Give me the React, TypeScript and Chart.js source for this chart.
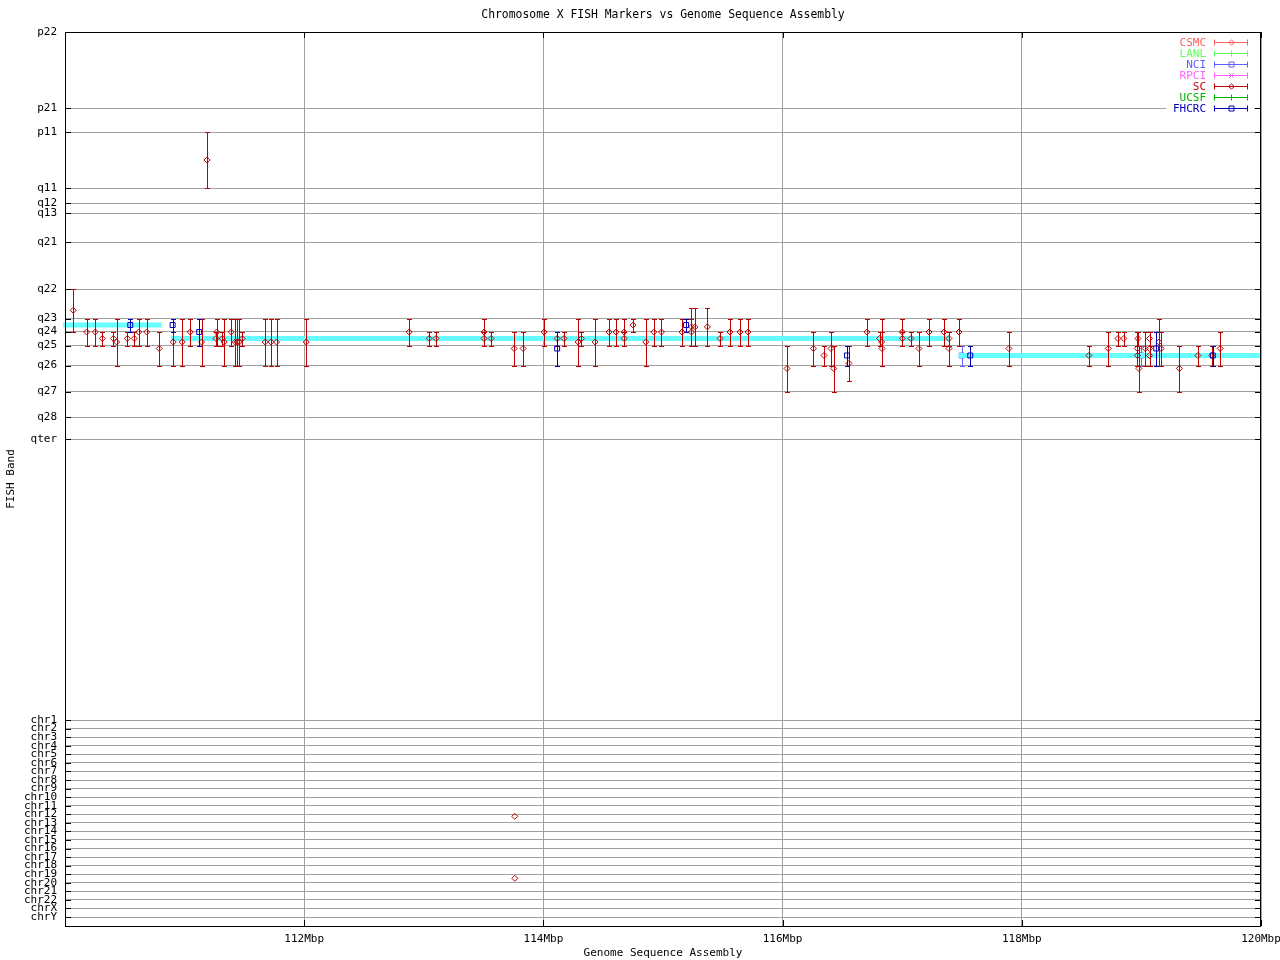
import React, { useEffect, useRef } from "react";
import { Chart, registerables } from "chart.js";

Chart.register(...registerables);

// ---------- axis tick data ----------
const bandLabels = ["p22", "p21", "p11", "q11", "q12", "q13", "q21", "q22", "q23", "q24", "q25", "q26", "q27", "q28", "qter"];
const bandValues = [0, 76, 100, 156, 171, 181, 210, 257, 286.5, 299.5, 313.5, 333.5, 359.5, 385, 407];
const chrLabels = ["chr1", "chr2", "chr3", "chr4", "chr5", "chr6", "chr7", "chr8", "chr9", "chr10", "chr11", "chr12", "chr13", "chr14", "chr15", "chr16", "chr17", "chr18", "chr19", "chr20", "chr21", "chr22", "chrX", "chrY"];
const chrValues = [688, 696.6, 705.1, 713.7, 722.3, 730.8, 739.4, 748, 756.5, 765.1, 773.7, 782.2, 790.8, 799.3, 807.9, 816.5, 825, 833.6, 842.2, 850.7, 859.3, 867.9, 876.4, 885];
const xTickValues = [112, 114, 116, 118, 120];

// ---------- SC markers (Mbp, band position, band range) ----------
const scX = [110.069, 110.181, 110.253, 110.312, 110.404, 110.432, 110.521, 110.579, 110.616, 110.683, 110.788, 110.905, 110.98, 111.047, 111.142, 111.187, 111.262, 111.268, 111.315, 111.331, 111.39, 111.423, 111.44, 111.457, 111.482, 111.674, 111.722, 111.769, 112.017, 112.878, 113.045, 113.103, 113.504, 113.504, 113.563, 113.755, 113.83, 114.006, 114.115, 114.173, 114.29, 114.318, 114.432, 114.549, 114.608, 114.675, 114.675, 114.75, 114.856, 114.923, 114.987, 115.159, 115.238, 115.238, 115.268, 115.371, 115.477, 115.56, 115.644, 115.711, 116.037, 116.257, 116.346, 116.404, 116.427, 116.555, 116.705, 116.811, 116.828, 116.831, 117.001, 117.001, 117.073, 117.14, 117.224, 117.349, 117.391, 117.391, 117.475, 117.892, 118.561, 118.723, 118.804, 118.853, 118.966, 118.966, 118.971, 118.979, 119.032, 119.068, 119.068, 119.068, 119.146, 119.165, 119.318, 119.472, 119.589, 119.659, 113.761, 113.761];
const scY = [278.3, 300, 300, 306.5, 306.5, 310, 306.5, 306.5, 300, 300, 316.5, 310, 310, 300, 310, 128, 306.5, 300, 306.5, 310, 300, 310, 310, 310, 306.5, 310, 310, 310, 310, 300, 306.5, 306.5, 300, 306.5, 306.5, 316.5, 316.5, 300, 306.5, 306.5, 310, 306.5, 310, 300, 300, 300, 306.5, 293, 310, 300, 300, 300, 294.9, 300, 294.9, 294.9, 306.5, 300, 300, 300, 336.5, 316.5, 323.5, 316.5, 336.5, 331.4, 300, 306.5, 310, 316.5, 300, 306.5, 306.5, 316.5, 300, 300, 306.5, 316.5, 300, 316.5, 323.5, 316.5, 306.5, 306.5, 316.5, 323.5, 306.5, 336.5, 316.5, 306.5, 316.5, 323.5, 310, 316.5, 336.5, 323.5, 323.5, 316.5, 784.3, 846.3];
const scLo = [257, 286.5, 286.5, 299.5, 299.5, 286.5, 299.5, 299.5, 286.5, 286.5, 299.5, 286.5, 286.5, 286.5, 286.5, 100, 299.5, 286.5, 299.5, 286.5, 286.5, 286.5, 286.5, 286.5, 299.5, 286.5, 286.5, 286.5, 286.5, 286.5, 299.5, 299.5, 286.5, 299.5, 299.5, 299.5, 299.5, 286.5, 299.5, 299.5, 286.5, 299.5, 286.5, 286.5, 286.5, 286.5, 299.5, 286.5, 286.5, 286.5, 286.5, 286.5, 276.3, 286.5, 276.3, 276.3, 299.5, 286.5, 286.5, 286.5, 313.5, 299.5, 313.5, 299.5, 313.5, 313.5, 286.5, 299.5, 286.5, 299.5, 286.5, 299.5, 299.5, 299.5, 286.5, 286.5, 299.5, 299.5, 286.5, 299.5, 313.5, 299.5, 299.5, 299.5, 299.5, 313.5, 299.5, 313.5, 299.5, 299.5, 299.5, 313.5, 286.5, 299.5, 313.5, 313.5, 313.5, 299.5, null, null];
const scHi = [299.5, 313.5, 313.5, 313.5, 313.5, 333.5, 313.5, 313.5, 313.5, 313.5, 333.5, 333.5, 333.5, 313.5, 333.5, 156, 313.5, 313.5, 313.5, 333.5, 313.5, 333.5, 333.5, 333.5, 313.5, 333.5, 333.5, 333.5, 333.5, 313.5, 313.5, 313.5, 313.5, 313.5, 313.5, 333.5, 333.5, 313.5, 313.5, 313.5, 333.5, 313.5, 333.5, 313.5, 313.5, 313.5, 313.5, 299.5, 333.5, 313.5, 313.5, 313.5, 313.5, 313.5, 313.5, 313.5, 313.5, 313.5, 313.5, 313.5, 359.5, 333.5, 333.5, 333.5, 359.5, 349.3, 313.5, 313.5, 333.5, 333.5, 313.5, 313.5, 313.5, 333.5, 313.5, 313.5, 313.5, 333.5, 313.5, 333.5, 333.5, 333.5, 313.5, 313.5, 333.5, 333.5, 313.5, 359.5, 333.5, 313.5, 333.5, 333.5, 333.5, 333.5, 359.5, 333.5, 333.5, 333.5, null, null];

// ---------- FHCRC markers ----------
const fhX = [110.546, 110.9, 111.122, 114.115, 115.193, 116.538, 117.569, 119.124, 119.597];
const fhY = [293, 293, 300, 316.5, 293, 323.5, 323.5, 316.5, 323.5];
const fhLo = [286.5, 286.5, 286.5, 299.5, 286.5, 313.5, 313.5, 299.5, 313.5];
const fhHi = [299.5, 299.5, 313.5, 333.5, 299.5, 333.5, 333.5, 333.5, 333.5];

// ---------- NCI markers ----------
const nciX = [117.497, 118.999];
const nciY = [323.5, 323.5];
const nciLo = [313.5, 313.5];
const nciHi = [333.5, 333.5];

// ---------- sequence assembly band segments ----------
const asmStartX = [109.985, 110.886, 117.472];
const asmEndX = [110.808, 117.397, 120];
const asmY = [293, 306.5, 323.5];

const FONT_FAMILY = '"DejaVu Sans Mono", monospace';
const FONT_SIZE = 11;
const TITLE_SIZE = 11.4;
const GRID = "#a0a0a0";

const COLORS = {
  CSMC: "#ff6060",
  LANL: "#60ff60",
  NCI: "#6060ff",
  RPCI: "#ff60ff",
  SC: "#c00000",
  UCSF: "#00b000",
  FHCRC: "#0000b8",
  ASM: "#66ffff",
};

const pts = (xs: number[], ys: number[]) => xs.map((x, i) => ({ x, y: ys[i] }));

const errorBarPlugin = {
  id: "errorBars",
  beforeDatasetDraw(chart: any, args: any) {
    const ds: any = chart.data.datasets[args.index];
    if (!ds.errLo) return;
    const meta = chart.getDatasetMeta(args.index);
    const ys = chart.scales.y;
    const ctx = chart.ctx;
    ctx.save();
    ctx.strokeStyle = ds.borderColor;
    ctx.lineWidth = 1;
    ctx.beginPath();
    meta.data.forEach((pt: any, i: number) => {
      const lo = ds.errLo[i];
      const hi = ds.errHi[i];
      if (lo == null || hi == null) return;
      const n = Math.round(pt.x);
      const x = n + 0.5;
      const y1 = Math.round(ys.getPixelForValue(lo)) + 0.5;
      const y2 = Math.round(ys.getPixelForValue(hi)) + 0.5;
      ctx.moveTo(x, y1);
      ctx.lineTo(x, y2);
      ctx.moveTo(n - 2, y1);
      ctx.lineTo(n + 3, y1);
      ctx.moveTo(n - 2, y2);
      ctx.lineTo(n + 3, y2);
    });
    ctx.stroke();
    ctx.restore();
  },
};

function drawMarker(ctx: CanvasRenderingContext2D, style: string, x: number, y: number) {
  ctx.beginPath();
  if (style === "diamond") {
    ctx.moveTo(x - 3, y);
    ctx.lineTo(x, y - 2.5);
    ctx.lineTo(x + 3, y);
    ctx.lineTo(x, y + 2.5);
    ctx.closePath();
  } else if (style === "square") {
    ctx.rect(x - 2.5, y - 2.5, 5, 5);
  } else if (style === "cross") {
    ctx.moveTo(x - 2.5, y - 2.5);
    ctx.lineTo(x + 2.5, y + 2.5);
    ctx.moveTo(x - 2.5, y + 2.5);
    ctx.lineTo(x + 2.5, y - 2.5);
  } else {
    ctx.moveTo(x, y - 3);
    ctx.lineTo(x, y + 3);
  }
  ctx.stroke();
}

const legendPlugin = {
  id: "fishLegend",
  afterDatasetsDraw(chart: any) {
    const ctx: CanvasRenderingContext2D = chart.ctx;
    const right = chart.chartArea.right;
    const items = chart.data.datasets.filter((d: any) => d.legendLabel);
    ctx.save();
    ctx.fillStyle = "#ffffff";
    ctx.fillRect(right - 95, 36, 88, 79);
    ctx.font = `${FONT_SIZE}px ${FONT_FAMILY}`;
    ctx.textAlign = "right";
    ctx.textBaseline = "middle";
    ctx.lineWidth = 1;
    items.forEach((d: any, i: number) => {
      const y = 42 + i * 11 + 0.5;
      ctx.fillStyle = d.borderColor;
      ctx.strokeStyle = d.borderColor;
      ctx.fillText(d.legendLabel, right - 55, y + 0.5);
      const x1 = right - 47 + 0.5;
      const x2 = right - 14 + 0.5;
      ctx.beginPath();
      ctx.moveTo(x1, y);
      ctx.lineTo(x2, y);
      ctx.moveTo(x1, y - 3);
      ctx.lineTo(x1, y + 3);
      ctx.moveTo(x2, y - 3);
      ctx.lineTo(x2, y + 3);
      ctx.stroke();
      drawMarker(ctx, d.legendMarker, Math.round((x1 + x2) / 2) + 0.5, y);
    });
    ctx.restore();
  },
};

const framePlugin = {
  id: "frameAndTicks",
  afterDraw(chart: any) {
    const ctx: CanvasRenderingContext2D = chart.ctx;
    const { left, right, top, bottom } = chart.chartArea;
    const xs = chart.scales.x;
    const ys = chart.scales.y;
    ctx.save();
    ctx.strokeStyle = "#000";
    ctx.lineWidth = 1;
    ctx.beginPath();
    ys.ticks.forEach((t: any) => {
      const py = Math.round(ys.getPixelForValue(t.value)) + 0.5;
      ctx.moveTo(left, py);
      ctx.lineTo(left + 6, py);
      ctx.moveTo(right - 6, py);
      ctx.lineTo(right, py);
    });
    xs.ticks.forEach((t: any) => {
      const px = Math.round(xs.getPixelForValue(t.value)) + 0.5;
      ctx.moveTo(px, bottom);
      ctx.lineTo(px, bottom - 6);
      ctx.moveTo(px, top);
      ctx.lineTo(px, top + 6);
    });
    ctx.stroke();
    ctx.strokeRect(Math.round(left) + 0.5, Math.round(top) + 0.5, Math.round(right - left) - 1, Math.round(bottom - top));
    // main title
    ctx.fillStyle = "#000";
    ctx.font = `${TITLE_SIZE}px ${FONT_FAMILY}`;
    ctx.textAlign = "center";
    ctx.textBaseline = "middle";
    ctx.fillText("Chromosome X FISH Markers vs Genome Sequence Assembly", (left + right) / 2, 15.5);
    ctx.restore();
  },
};

export default function App() {
  const canvasRef = useRef<HTMLCanvasElement | null>(null);

  useEffect(() => {
    const canvas = canvasRef.current;
    if (!canvas) return;
    const yTickValues = [...bandValues, ...chrValues];
    const yTickLabels = [...bandLabels, ...chrLabels];
    const font = { family: FONT_FAMILY, size: FONT_SIZE };

    const asmData: any[] = [];
    asmStartX.forEach((sx, i) => {
      asmData.push({ x: sx, y: asmY[i] });
      asmData.push({ x: asmEndX[i], y: asmY[i] });
      asmData.push({ x: asmEndX[i] + 0.0005, y: null });
    });

    const markerBase = { showLine: false, borderWidth: 1, backgroundColor: "rgba(0,0,0,0)" };

    const chart = new Chart(canvas, {
      type: "scatter",
      data: {
        datasets: [
          { ...markerBase, label: "CSMC", legendLabel: "CSMC", legendMarker: "diamond", data: [], borderColor: COLORS.CSMC, order: 0 } as any,
          { ...markerBase, label: "LANL", legendLabel: "LANL", legendMarker: "plus", data: [], borderColor: COLORS.LANL, order: 0 } as any,
          {
            ...markerBase, label: "NCI", legendLabel: "NCI", legendMarker: "square",
            data: pts(nciX, nciY), errLo: nciLo, errHi: nciHi,
            borderColor: COLORS.NCI, pointStyle: "rect", pointRadius: 3.5, order: 6,
          } as any,
          { ...markerBase, label: "RPCI", legendLabel: "RPCI", legendMarker: "cross", data: [], borderColor: COLORS.RPCI, order: 0 } as any,
          {
            ...markerBase, label: "SC", legendLabel: "SC", legendMarker: "diamond",
            data: pts(scX, scY), errLo: scLo, errHi: scHi,
            borderColor: COLORS.SC, pointStyle: "rectRot", pointRadius: 3, order: 3,
          } as any,
          { ...markerBase, label: "UCSF", legendLabel: "UCSF", legendMarker: "plus", data: [], borderColor: COLORS.UCSF, order: 0 } as any,
          {
            ...markerBase, label: "FHCRC", legendLabel: "FHCRC", legendMarker: "square",
            data: pts(fhX, fhY), errLo: fhLo, errHi: fhHi,
            borderColor: COLORS.FHCRC, pointStyle: "rect", pointRadius: 3.5, order: 1,
          } as any,
          {
            label: "Assembly", data: asmData, showLine: true, spanGaps: false,
            borderColor: COLORS.ASM, backgroundColor: COLORS.ASM, borderWidth: 5,
            pointRadius: 0, borderCapStyle: "butt", clip: 4, order: 5,
          } as any,
        ],
      },
      options: {
        animation: false,
        responsive: false,
        devicePixelRatio: 1,
        events: [],
        layout: { padding: { top: 32, right: 19, bottom: 0, left: 0 } },
        plugins: {
          legend: { display: false },
          tooltip: { enabled: false },
          title: { display: false },
        },
        scales: {
          x: {
            type: "linear",
            position: "bottom",
            min: 110,
            max: 120,
            afterBuildTicks: (s: any) => {
              s.ticks = xTickValues.map((v) => ({ value: v }));
            },
            afterFit: (s: any) => {
              s.height = 34;
              s.paddingLeft = 0;
              s.paddingRight = 0;
            },
            ticks: {
              autoSkip: false,
              maxRotation: 0,
              padding: 7,
              color: "#000",
              font,
              callback: (v: any) => `${v}Mbp`,
            },
            grid: { color: GRID, drawTicks: false, lineWidth: 1 },
            border: { display: false },
            title: { display: true, text: "Genome Sequence Assembly", color: "#000", font, padding: { top: 0, bottom: 0 } },
          },
          y: {
            type: "linear",
            position: "left",
            min: 0,
            max: 894,
            reverse: true,
            afterBuildTicks: (s: any) => {
              s.ticks = yTickValues.map((v) => ({ value: v }));
            },
            afterFit: (s: any) => {
              s.width = 65;
              s.paddingTop = 0;
              s.paddingBottom = 0;
            },
            ticks: {
              autoSkip: false,
              padding: 8,
              color: "#000",
              font,
              callback: (v: any) => {
                const i = yTickValues.indexOf(Number(v));
                return i >= 0 ? yTickLabels[i] : "";
              },
            },
            grid: { color: GRID, drawTicks: false, lineWidth: 1 },
            border: { display: false },
            title: { display: true, text: "FISH Band", color: "#000", font, padding: { top: 5, bottom: 0 } },
          },
        },
      } as any,
      plugins: [errorBarPlugin, legendPlugin, framePlugin],
    });

    return () => {
      chart.destroy();
    };
  }, []);

  return (
    <div style={{ position: "absolute", left: 0, top: 0, width: 1280, height: 960, background: "#ffffff" }}>
      <canvas ref={canvasRef} width={1280} height={960} style={{ width: 1280, height: 960, display: "block" }} />
    </div>
  );
}
